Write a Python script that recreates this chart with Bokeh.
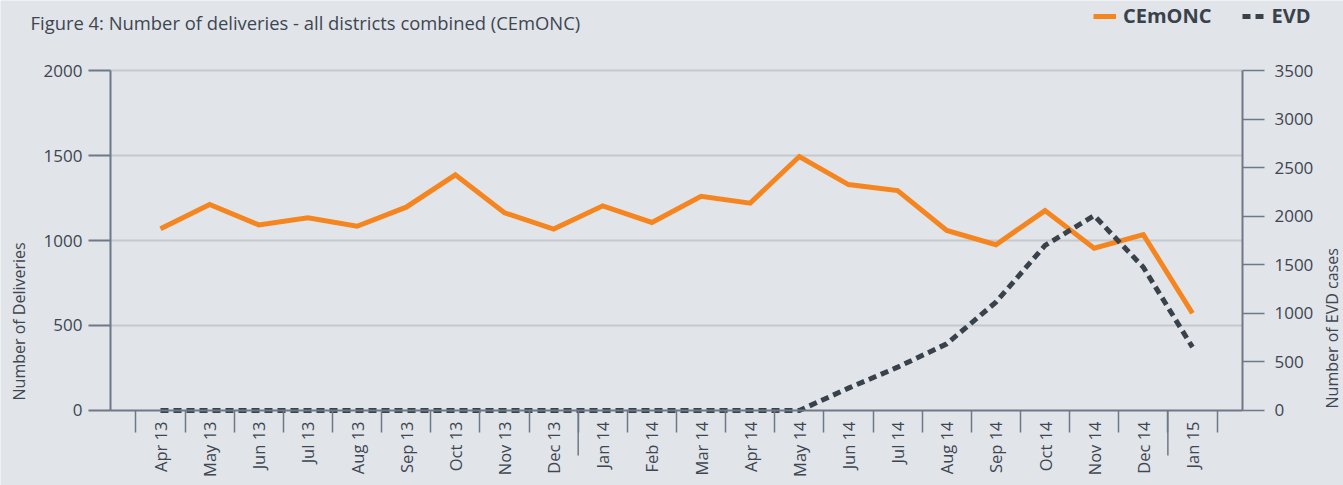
import math
from bokeh.plotting import figure
from bokeh.models import (Range1d, LinearAxis, FixedTicker, Legend, LegendItem, Label)
from bokeh.embed import file_html
from bokeh.resources import INLINE

# ---------------- data ----------------
months = ["Apr 13", "May 13", "Jun 13", "Jul 13", "Aug 13", "Sep 13", "Oct 13",
          "Nov 13", "Dec 13", "Jan 14", "Feb 14", "Mar 14", "Apr 14", "May 14",
          "Jun 14", "Jul 14", "Aug 14", "Sep 14", "Oct 14", "Nov 14", "Dec 14",
          "Jan 15"]
deliveries = [1069, 1212, 1092, 1133, 1084, 1196, 1386, 1163, 1067, 1204, 1106,
              1260, 1220, 1494, 1329, 1294, 1059, 975, 1176, 955, 1035, 572]
evd_cases = [0, 0, 0, 0, 0, 0, 0, 0, 0, 0, 0, 0, 0, 0,
             230, 446, 686, 1115, 1699, 2007, 1475, 652]
left_ticks = [0, 500, 1000, 1500, 2000]
right_ticks = [0, 500, 1000, 1500, 2000, 2500, 3000, 3500]
year_breaks = ["Jan 14", "Jan 15"]

title_text = "Figure 4: Number of deliveries - all districts combined (CEmONC)"
left_title = "Number of Deliveries"
right_title = "Number of EVD cases"

# ---------------- style ----------------
BG = "#e1e4e9"
AX = "#6e7886"
TXT = "#3d4651"
GRID = "#c4c9d0"
ORANGE = "#f5861f"
DARK = "#39424b"
FONT = "Open Sans"

idx = list(range(len(months)))
X_LO, X_HI = -1.0175, 22.018          # plotting area edges (data units)
L_MAX = left_ticks[-1]
R_MAX = right_ticks[-1]

# the frame covers the whole canvas; axes are pinned with fixed_location
p = figure(width=1343, height=485, output_backend="svg", toolbar_location=None,
           x_range=Range1d(-3.256, 24.074), y_range=Range1d(-441.2, 2411.8),
           min_border=0)
p.extra_y_ranges = {"evd": Range1d(-772.1, 4220.6)}
p.background_fill_color = BG
p.border_fill_color = BG
p.outline_line_color = None
p.xgrid.visible = False
p.ygrid.visible = False

# horizontal grid lines
grid_vals = [t for t in left_ticks if t > 0]
p.segment(x0=[X_LO] * len(grid_vals), x1=[X_HI] * len(grid_vals),
          y0=grid_vals, y1=grid_vals, line_color=GRID, line_width=2)

# longer separators at year boundaries
yb = [months.index(m) - 0.5 for m in year_breaks]
p.segment(x0=yb, x1=yb, y0=[0] * len(yb), y1=[-265] * len(yb),
          line_color=AX, line_width=1.5)

# data lines
r1 = p.line(idx, deliveries, line_color=ORANGE, line_width=5, line_join="miter")
r2 = p.line(idx, evd_cases, y_range_name="evd", line_color=DARK, line_width=5,
            line_dash="8 5", line_join="miter")

# x axis
xa = p.xaxis[0]
xa.fixed_location = 0
xa.bounds = (X_LO, X_HI)
xa.ticker = FixedTicker(ticks=idx, minor_ticks=[i - 0.5 for i in range(len(months) + 1)])
xa.major_label_overrides = {i: m for i, m in enumerate(months)}
xa.major_label_orientation = math.pi / 2
xa.major_tick_out = 0
xa.major_tick_in = 0
xa.minor_tick_out = 22
xa.minor_tick_in = 0
xa.minor_tick_line_color = AX
xa.minor_tick_line_width = 1.5
xa.axis_line_color = AX
xa.axis_line_width = 2
xa.major_label_standoff = -11
xa.major_label_text_font = FONT
xa.major_label_text_font_size = "16.5px"
xa.major_label_text_color = TXT

# left axis
ya = p.yaxis[0]
ya.fixed_location = X_LO
ya.bounds = (0, L_MAX)
ya.ticker = FixedTicker(ticks=left_ticks)
ya.major_tick_out = 22
ya.major_tick_in = 0
ya.minor_tick_out = 0
ya.minor_tick_in = 0
ya.major_tick_line_color = AX
ya.major_tick_line_width = 2
ya.axis_line_color = AX
ya.axis_line_width = 2
ya.major_label_standoff = 6
ya.major_label_text_font = FONT
ya.major_label_text_font_size = "17px"
ya.major_label_text_color = TXT

# right axis
ra = LinearAxis(y_range_name="evd", ticker=FixedTicker(ticks=right_ticks))
ra.fixed_location = X_HI
ra.bounds = (0, R_MAX)
ra.major_tick_out = 22
ra.major_tick_in = 0
ra.minor_tick_out = 0
ra.minor_tick_in = 0
ra.major_tick_line_color = AX
ra.major_tick_line_width = 1.5
ra.axis_line_color = AX
ra.axis_line_width = 2
ra.major_label_standoff = 10
ra.major_label_text_font = FONT
ra.major_label_text_font_size = "17px"
ra.major_label_text_color = TXT
p.add_layout(ra, "right")

# title and axis titles
p.add_layout(Label(x=-2.645, y=2282, text=title_text, text_align="left",
                   text_baseline="middle", text_font=FONT, text_font_size="18.4px",
                   text_color=TXT))
p.add_layout(Label(x=-2.889, y=59, text=left_title, angle=math.pi / 2,
                   text_align="left", text_baseline="middle", text_font=FONT,
                   text_font_size="16px", text_color=TXT))
p.add_layout(Label(x=23.85, y=12, text=right_title, angle=math.pi / 2,
                   text_align="left", text_baseline="middle", text_font=FONT,
                   text_font_size="16px", text_color=TXT))

# legend
legend = Legend(items=[LegendItem(label="CEmONC", renderers=[r1]),
                       LegendItem(label="EVD", renderers=[r2])],
                orientation="horizontal", location=(1093, 456),
                label_text_font=FONT, label_text_font_size="20px",
                label_text_font_style="bold", label_text_color=DARK,
                glyph_width=23, glyph_height=20, label_standoff=7, spacing=30,
                padding=0, margin=0, border_line_alpha=0,
                background_fill_alpha=0)
p.add_layout(legend)

open("out.html", "w").write(file_html(p, INLINE))
